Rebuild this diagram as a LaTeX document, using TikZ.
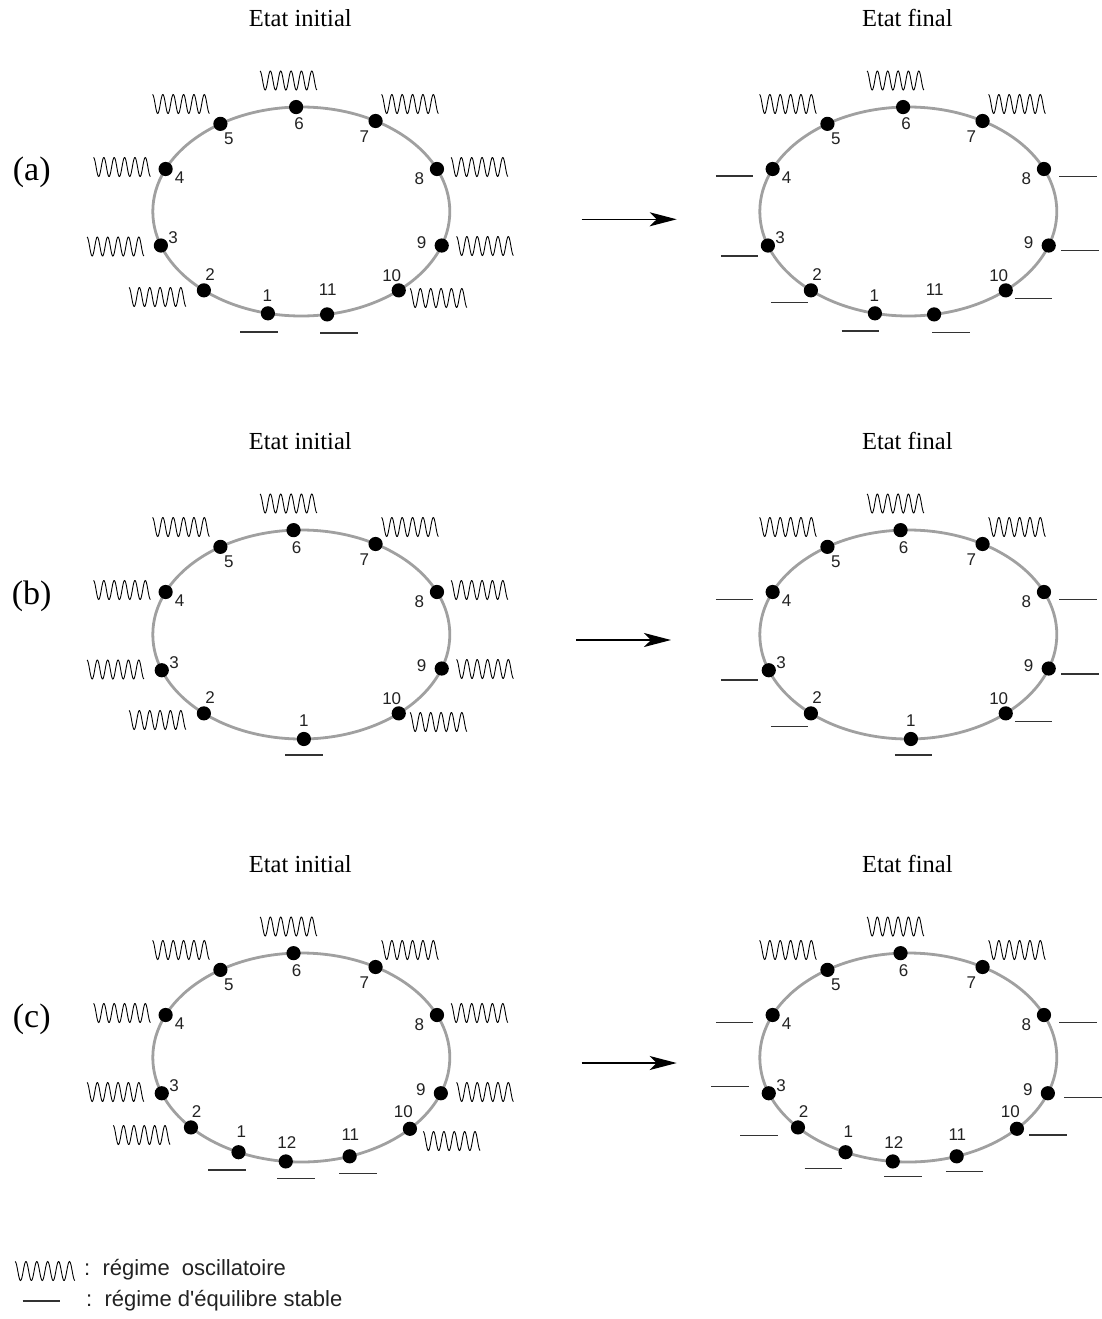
\documentclass[tikz,border=0pt]{standalone}
\usepackage{fontspec}
\newfontfamily\lsans{Liberation Sans}
\newfontfamily\lserif{Liberation Serif}
\usetikzlibrary{arrows.meta}
\definecolor{ringgray}{HTML}{A0A0A0}
\definecolor{numgray}{HTML}{222222}
\definecolor{stabgray}{HTML}{333333}
\tikzset{
 ring/.style={draw=ringgray, line width=2.8pt},
 dot/.style={circle, fill=black, inner sep=0pt, minimum size=14.2pt},
 num/.style={font=\lsans\fontsize{17}{19}\selectfont, text=numgray, inner sep=0pt},
 osline/.style={line width=0.9pt, draw=black},
 stabline/.style={line width=1.4pt, draw=stabgray},
 title/.style={font=\lserif\fontsize{24.5}{28}\selectfont, inner sep=0pt, anchor=base},
 rowlab/.style={font=\lserif\fontsize{34}{38}\selectfont, inner sep=0pt},
 legend/.style={font=\lsans\fontsize{22}{26}\selectfont, inner sep=0pt, anchor=base west, text=numgray},
 trans/.style={line width=1.3pt, -{Stealth[length=27pt,width=14pt,inset=7pt]}},
 osc/.pic={\draw[osline] plot[domain=0:5.5,samples=120,smooth] ({-28.5+\x*10.36},{-9.5*cos(360*\x)});},
 stab/.pic={\draw[stabline] (-18.75,0) -- (18.75,0);}
}
\newcommand\myring[2]{%
  \begin{scope}[shift={(301.3,211.5)}]
    \draw[ring] (0,0) ellipse [x radius=148.5, y radius=104.5];
    \foreach \n/\t/\dx/\dy in {#2}{
      \node[dot] (#1\n) at (-\t:148.5 and 104.5) {};
      \node[num] (#1L\n) at ([shift={(\dx,\dy)}]#1\n) {\n};
    }
  \end{scope}}
\begin{document}
\begin{tikzpicture}[x=1pt,y=-1pt]
\useasboundingbox (0,0) rectangle (1102,1319);

% ---------- row (a) ----------
\node[title] (tAi) at (300.3,26.7) {Etat initial};
\node[title] (tAf) at (907.3,26.7) {Etat final};
\node[rowlab] (rA) at (31.7,172.5) {(a)};
\begin{scope}
  \myring{aI}{6/92/3/17, 5/123/8.4/15.3, 7/60/-11.3/15.3, 4/156/14/9, 8/24/-17.7/10, 3/199/12.3/-8, 9/341/-20/-3.3, 2/229/6.3/-16, 10/311/-7/-14.7, 1/257/-0.6/-17.6, 11/280/0.7/-24.3}
  \pic (aIo6) at (288.5,80.5) {osc};
  \pic (aIo5) at (181,104) {osc};
  \pic (aIo7) at (410,104) {osc};
  \pic (aIo4) at (122,167) {osc};
  \pic (aIo8) at (479.5,167) {osc};
  \pic (aIo3) at (115.5,246.5) {osc};
  \pic (aIo9) at (485,246) {osc};
  \pic (aIo2) at (157.5,297) {osc};
  \pic (aIo10) at (438.5,298) {osc};
  \pic (aIs1) at (259,332) {stab};
  \pic (aIs11) at (339,333) {stab};
\end{scope}
\begin{scope}[shift={(607,0)}]
  \myring{aF}{6/92/3/17, 5/123/8.4/15.3, 7/60/-11.3/15.3, 4/156/14/9, 8/24/-17.7/10, 3/199/12.3/-8, 9/341/-20/-3.3, 2/229/6.3/-16, 10/311/-7/-14.7, 1/257/-0.6/-17.6, 11/280/0.7/-24.3}
  \pic (aFo6) at (288.5,80.5) {osc};
  \pic (aFo5) at (181,104) {osc};
  \pic (aFo7) at (410,104) {osc};
  \pic (aFs4) at (127.7,176) {stab};
  \pic (aFs8) at (471,176.5) {stab};
  \pic (aFs3) at (132.5,256) {stab};
  \pic (aFs9) at (473,250.7) {stab};
  \pic (aFs2) at (182.7,302.7) {stab};
  \pic (aFs10) at (426.7,298.3) {stab};
  \pic (aFs1) at (253.3,331) {stab};
  \pic (aFs11) at (344,332.7) {stab};
\end{scope}
\coordinate (aS) at (581.7,219.3);
\coordinate (aE) at (676.7,219.3);
\draw[trans] (aS) -- (aE);

% ---------- row (b) ----------
\node[title] (tBi) at (300.3,449.7) {Etat initial};
\node[title] (tBf) at (907.3,449.7) {Etat final};
\node[rowlab] (rB) at (31.7,596.5) {(b)};
\begin{scope}[shift={(0,423)}]
  \myring{bI}{6/93/3/17, 5/123/8.4/15.3, 7/60/-11.3/15.3, 4/156/14/9, 8/24/-17.7/10, 3/200/12.3/-8, 9/341/-20/-3.3, 2/229/6.3/-16, 10/311/-7/-14.7, 1/271/0/-18}
  \pic (bIo6) at (288.5,80.5) {osc};
  \pic (bIo5) at (181,104) {osc};
  \pic (bIo7) at (410,104) {osc};
  \pic (bIo4) at (122,167) {osc};
  \pic (bIo8) at (479.5,167) {osc};
  \pic (bIo3) at (115.5,246.5) {osc};
  \pic (bIo9) at (485,246) {osc};
  \pic (bIo2) at (157.5,297) {osc};
  \pic (bIo10) at (438.5,299) {osc};
  \pic (bIs1) at (304.2,332) {stab};
\end{scope}
\begin{scope}[shift={(607,423)}]
  \myring{bF}{6/93/3/17, 5/123/8.4/15.3, 7/60/-11.3/15.3, 4/156/14/9, 8/24/-17.7/10, 3/200/12.3/-8, 9/341/-20/-3.3, 2/229/6.3/-16, 10/311/-7/-14.7, 1/271/0/-18}
  \pic (bFo6) at (288.5,80.5) {osc};
  \pic (bFo5) at (181,104) {osc};
  \pic (bFo7) at (410,104) {osc};
  \pic (bFs4) at (127.7,176.3) {stab};
  \pic (bFs8) at (471,176.3) {stab};
  \pic (bFs3) at (132.5,257) {stab};
  \pic (bFs9) at (473,251) {stab};
  \pic (bFs2) at (182.7,303.7) {stab};
  \pic (bFs10) at (426.7,298.7) {stab};
  \pic (bFs1) at (306.7,332) {stab};
\end{scope}
\coordinate (bS) at (576,640);
\coordinate (bE) at (671,640);
\draw[trans] (bS) -- (bE);

% ---------- row (c) ----------
\node[title] (tCi) at (300.3,872.7) {Etat initial};
\node[title] (tCf) at (907.3,872.7) {Etat final};
\node[rowlab] (rC) at (31.7,1019) {(c)};
\begin{scope}[shift={(0,846)}]
  \myring{cI}{6/93/3/17, 5/123/8.4/15.3, 7/60/-11.3/15.3, 4/156/14/9, 8/24/-17.7/10, 3/200/12.3/-8, 9/340/-20/-3.3, 2/222/5.7/-15.4, 10/317/-6.6/-16.7, 1/245/2.7/-20.6, 12/264/1/-19.3, 11/289/0.7/-21.4}
  \pic (cIo6) at (288.5,80.5) {osc};
  \pic (cIo5) at (181,104) {osc};
  \pic (cIo7) at (410,104) {osc};
  \pic (cIo4) at (122,167) {osc};
  \pic (cIo8) at (479.5,167) {osc};
  \pic (cIo3) at (115.5,246) {osc};
  \pic (cIo9) at (485,246) {osc};
  \pic (cIo2) at (141.7,289) {osc};
  \pic (cIo10) at (451.7,295) {osc};
  \pic (cIs1) at (227,324) {stab};
  \pic (cIs12) at (296.2,332.3) {stab};
  \pic (cIs11) at (357.8,327.3) {stab};
\end{scope}
\begin{scope}[shift={(607,846)}]
  \myring{cF}{6/93/3/17, 5/123/8.4/15.3, 7/60/-11.3/15.3, 4/156/14/9, 8/24/-17.7/10, 3/200/12.3/-8, 9/340/-20/-3.3, 2/222/5.7/-15.4, 10/317/-6.6/-16.7, 1/245/2.7/-20.6, 12/264/1/-19.3, 11/289/0.7/-21.4}
  \pic (cFo6) at (288.5,80.5) {osc};
  \pic (cFo5) at (181,104) {osc};
  \pic (cFo7) at (410,104) {osc};
  \pic (cFs4) at (127.7,176.3) {stab};
  \pic (cFs8) at (471,176.3) {stab};
  \pic (cFs3) at (123,240.7) {stab};
  \pic (cFs9) at (475.9,251.3) {stab};
  \pic (cFs2) at (151.9,289.7) {stab};
  \pic (cFs10) at (440.9,289) {stab};
  \pic (cFs1) at (216.3,322.3) {stab};
  \pic (cFs12) at (296,330.7) {stab};
  \pic (cFs11) at (357.7,325.7) {stab};
\end{scope}
\coordinate (cS) at (581.7,1063);
\coordinate (cE) at (676.7,1063);
\draw[trans] (cS) -- (cE);

% ---------- legend ----------
\pic[xscale=1.05] (lgo) at (45,1271) {osc};
\pic (lgs) at (41.3,1301) {stab};
\node[legend] (lgt1) at (84,1275) {:\ \ régime\ \ oscillatoire};
\node[legend] (lgt2) at (86,1306) {:\ \ régime d'équilibre stable};
\end{tikzpicture}
\end{document}
